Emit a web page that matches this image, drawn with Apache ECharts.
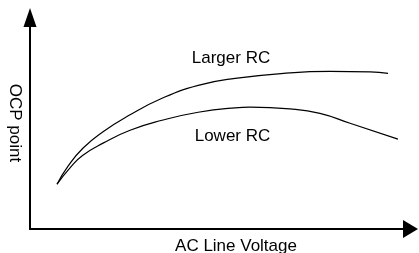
<!DOCTYPE html>
<html>
<head>
<meta charset="utf-8">
<script src="https://cdn.jsdelivr.net/npm/echarts@6/dist/echarts.min.js"></script>
<style>
html,body{margin:0;padding:0;background:#fff;}
#chart{width:419px;height:253px;}
</style>
</head>
<body>
<div id="chart"></div>
<script>
// Conceptual curves (arbitrary units, 0-100 on both axes)
const largerX = [7.1, 10.0, 13.9, 19.2, 25.8, 34.7, 44.2, 53.9, 68.3, 78.8, 89.4, 94.1];
const largerY = [21.2, 29.7, 38.2, 46.0, 53.5, 61.8, 67.9, 71.2, 73.8, 74.5, 74.3, 73.6];
const lowerX = [7.1, 10.8, 13.9, 19.2, 26.3, 34.7, 44.2, 53.9, 57.8, 68.3, 76.2, 84.1, 96.7];
const lowerY = [21.2, 29.5, 34.9, 40.6, 46.7, 51.4, 55.2, 57.3, 57.6, 56.8, 54.7, 50.0, 42.5];
const seriesNames = ['Larger RC', 'Lower RC'];
const xAxisTitle = 'AC Line Voltage';
const yAxisTitle = 'OCP point';

const zip = (xs, ys) => xs.map((x, i) => [x, ys[i]]);
const font = '"Liberation Sans", Arial, sans-serif';

const chart = echarts.init(document.getElementById('chart'), null, {renderer: 'canvas'});
chart.setOption({
  animation: false,
  backgroundColor: '#ffffff',
  grid: {left: 30, right: 8.5, top: 17.5, bottom: 24},
  xAxis: {
    type: 'value', min: 0, max: 100,
    axisLine: {show: true, symbol: ['none', 'triangle'], symbolSize: [18, 15],
      lineStyle: {color: '#000', width: 2}},
    axisTick: {show: false}, axisLabel: {show: false}, splitLine: {show: false}
  },
  yAxis: {
    type: 'value', min: 0, max: 100,
    axisLine: {show: true, symbol: ['none', 'triangle'], symbolSize: [13, 19],
      lineStyle: {color: '#000', width: 2}},
    axisTick: {show: false}, axisLabel: {show: false}, splitLine: {show: false}
  },
  series: [
    {name: seriesNames[0], type: 'line', smooth: 0.5, symbol: 'none',
      lineStyle: {color: '#000', width: 1.2}, data: zip(largerX, largerY)},
    {name: seriesNames[1], type: 'line', smooth: 0.5, symbol: 'none',
      lineStyle: {color: '#000', width: 1.2}, data: zip(lowerX, lowerY)}
  ],
  graphic: [
    {type: 'text', x: 231, y: 58, style: {text: seriesNames[0], font: '17px ' + font, fill: '#000', align: 'center', verticalAlign: 'middle'}},
    {type: 'text', x: 232.5, y: 136, style: {text: seriesNames[1], font: '17px ' + font, fill: '#000', align: 'center', verticalAlign: 'middle'}},
    {type: 'text', x: 236, y: 246, style: {text: xAxisTitle, font: '17px ' + font, fill: '#000', align: 'center', verticalAlign: 'middle'}},
    {type: 'text', x: 15, y: 123, rotation: -Math.PI / 2, style: {text: yAxisTitle, font: '17px ' + font, fill: '#000', align: 'center', verticalAlign: 'middle'}}
  ]
});
</script>
</body>
</html>
